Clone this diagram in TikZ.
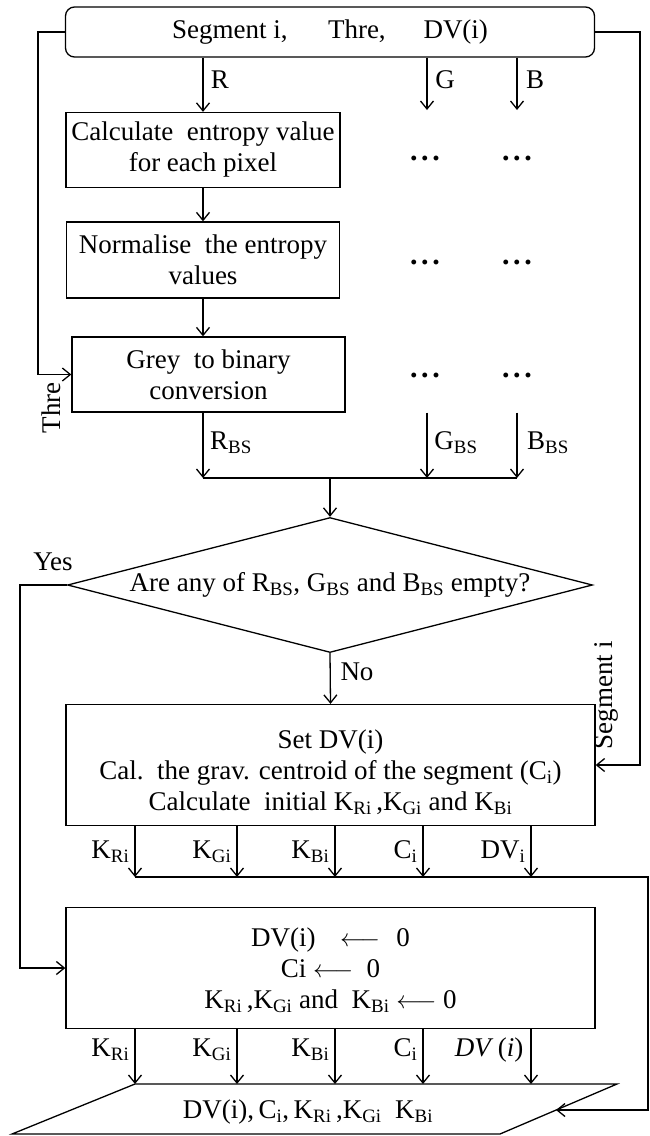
\documentclass[tikz,border=0pt]{standalone}
\usepackage{fontspec}
\setmainfont{Liberation Serif}
\usetikzlibrary{arrows.meta,shapes.geometric}
\begin{document}
\begin{tikzpicture}[x=1pt,y=-1pt,line width=1.3pt,
  every node/.style={font=\fontsize{27}{31}\selectfont},
  box/.style={draw,rectangle,align=center,inner sep=0pt},
  arr/.style={-{Straight Barb[length=8pt,width=13pt]}},
  lbl/.style={inner sep=0pt},
  dots/.style={inner sep=0pt,font=\fontsize{30}{31}\selectfont\bfseries}]
\useasboundingbox (0,0) rectangle (650,1136);
% nodes
\node[draw,rounded corners=9pt,minimum width=529pt,minimum height=50pt,inner sep=0pt] (top) at (330,32) {Segment i,\hspace{1.5em}Thre,\hspace{1.4em}DV(i)};
\node[box,minimum width=274pt,minimum height=75pt] (b1) at (203,150) {Calculate\ \ entropy value\\for each pixel};
\node[box,minimum width=273pt,minimum height=76pt] (b2) at (203,260) {Normalise\ \ the entropy\\values};
\node[box,minimum width=273pt,minimum height=75pt] (b3) at (208.5,374.5) {Grey\ \ to binary\\conversion};
\node[dots] (d1g) at (425,158) {.\hspace{0.12em}.\hspace{0.12em}.};
\node[dots] (d1b) at (517,158) {.\hspace{0.12em}.\hspace{0.12em}.};
\node[dots] (d2g) at (425,262) {.\hspace{0.12em}.\hspace{0.12em}.};
\node[dots] (d2b) at (517,262) {.\hspace{0.12em}.\hspace{0.12em}.};
\node[dots] (d3g) at (425,375) {.\hspace{0.12em}.\hspace{0.12em}.};
\node[dots] (d3b) at (517,375) {.\hspace{0.12em}.\hspace{0.12em}.};
\node[diamond,draw,aspect=3.9,inner sep=0pt,minimum width=525pt,minimum height=135pt] (dia) at (330,585) {Are any of R\textsubscript{BS}, G\textsubscript{BS} and B\textsubscript{BS} empty?};
\node[box,minimum width=529pt,minimum height=121pt,font=\fontsize{27}{31}\selectfont] (b4) at (330.5,765) {\rule{0pt}{34pt}Set DV(i)\\Cal.\ \ the grav. centroid of the segment (C\textsubscript{i})\\Calculate\ \ initial K\textsubscript{Ri}\,,K\textsubscript{Gi} and K\textsubscript{Bi}};
\node[box,minimum width=529pt,minimum height=121pt,font=\fontsize{27}{31}\selectfont] (b5) at (330.5,968) {\rule{0pt}{24pt}DV(i)\hspace{0.9em}$\longleftarrow$\hspace{0.6em}0\\Ci $\longleftarrow$\ \ 0\\K\textsubscript{Ri}\,,K\textsubscript{Gi} and\ \ K\textsubscript{Bi} $\longleftarrow$ 0};
% coordinates
\coordinate (gx) at (427,110);
\coordinate (bx) at (517,110);
\coordinate (jl) at (203,478);
\coordinate (jg) at (427,478);
\coordinate (jb) at (517,478);
\coordinate (tx) at (38,32);
\coordinate (sx) at (640,32);
\coordinate (yx) at (20,585);
\coordinate (k1) at (135,877);
\coordinate (k2) at (237,877);
\coordinate (k3) at (335,877);
\coordinate (k4) at (423,877);
\coordinate (k5) at (531,877);
\coordinate (lx) at (648,877);
\coordinate (m1) at (135,1084);
\coordinate (m2) at (237,1084);
\coordinate (m3) at (335,1084);
\coordinate (m4) at (423,1084);
\coordinate (m5) at (531,1084);
\coordinate (pr) at (617,1084);
\coordinate (pbr) at (500,1134);
\coordinate (pbl) at (12,1134);
\coordinate (pin) at (556,1110);
% output parallelogram
\draw (m1) -- (pr) -- (pbr) -- (pbl) -- cycle;
\node (out) at (308,1112) {DV(i),\,C\textsubscript{i},\,K\textsubscript{Ri}\,,K\textsubscript{Gi}\ \ K\textsubscript{Bi}};
% connectors
\draw[arr] (top.south -| b1.north) -- (b1.north);
\draw[arr] (top.south -| gx) -- (gx);
\draw[arr] (top.south -| bx) -- (bx);
\draw[arr] (b1.south) -- (b2.north);
\draw[arr] (b2.south) -- (b2.south |- b3.north);
\draw[arr] (b2.south |- b3.south) -- (jl);
\draw[arr] (jg |- b3.south) -- (jg);
\draw[arr] (jb |- b3.south) -- (jb);
\draw (jl) -- (jb);
\draw[arr] (jl -| dia.north) -- (dia.north);
\draw[arr] (top.west) -- (tx) |- (b3.west);
\draw[arr] (top.east) -- (sx) |- (b4.east);
\draw[arr] (dia.south) -- (b4.north);
\draw[arr] (dia.west) -- (yx) |- (b5.west);
\foreach \k in {1,...,5} {
  \draw[arr] (k\k |- b4.south) -- (k\k);
  \draw[arr] (m\k |- b5.south) -- (m\k);
}
\draw[arr] (k1) -- (lx) -- (lx |- pin) -- (pin);
% labels
\node[lbl] (lR) at (220,80) {R};
\node[lbl] (lG) at (445,80) {G};
\node[lbl] (lB) at (535,80) {B};
\node[lbl] (lRbs) at (231,443) {R\textsubscript{BS}};
\node[lbl] (lGbs) at (456,443) {G\textsubscript{BS}};
\node[lbl] (lBbs) at (548,443) {B\textsubscript{BS}};
\node[lbl,rotate=90] (lthre) at (51,408) {Thre};
\node[lbl,rotate=90] (lseg) at (606,695) {Segment i};
\node[lbl] (lyes) at (53,562) {Yes};
\node[lbl] (lno) at (357,672) {No};
\node[lbl,anchor=east] (a1) at (130,852) {K\textsubscript{Ri}};
\node[lbl,anchor=east] (a2) at (232,852) {K\textsubscript{Gi}};
\node[lbl,anchor=east] (a3) at (330,852) {K\textsubscript{Bi}};
\node[lbl,anchor=east] (a4) at (418,852) {C\textsubscript{i}};
\node[lbl,anchor=east] (a5) at (526,852) {DV\textsubscript{i}};
\node[lbl,anchor=east] (c1) at (130,1050) {K\textsubscript{Ri}};
\node[lbl,anchor=east] (c2) at (232,1050) {K\textsubscript{Gi}};
\node[lbl,anchor=east] (c3) at (330,1050) {K\textsubscript{Bi}};
\node[lbl,anchor=east] (c4) at (418,1050) {C\textsubscript{i}};
\node[lbl,anchor=east] (c5) at (524,1050) {\textit{DV}\,(\textit{i})};
\end{tikzpicture}
\end{document}
